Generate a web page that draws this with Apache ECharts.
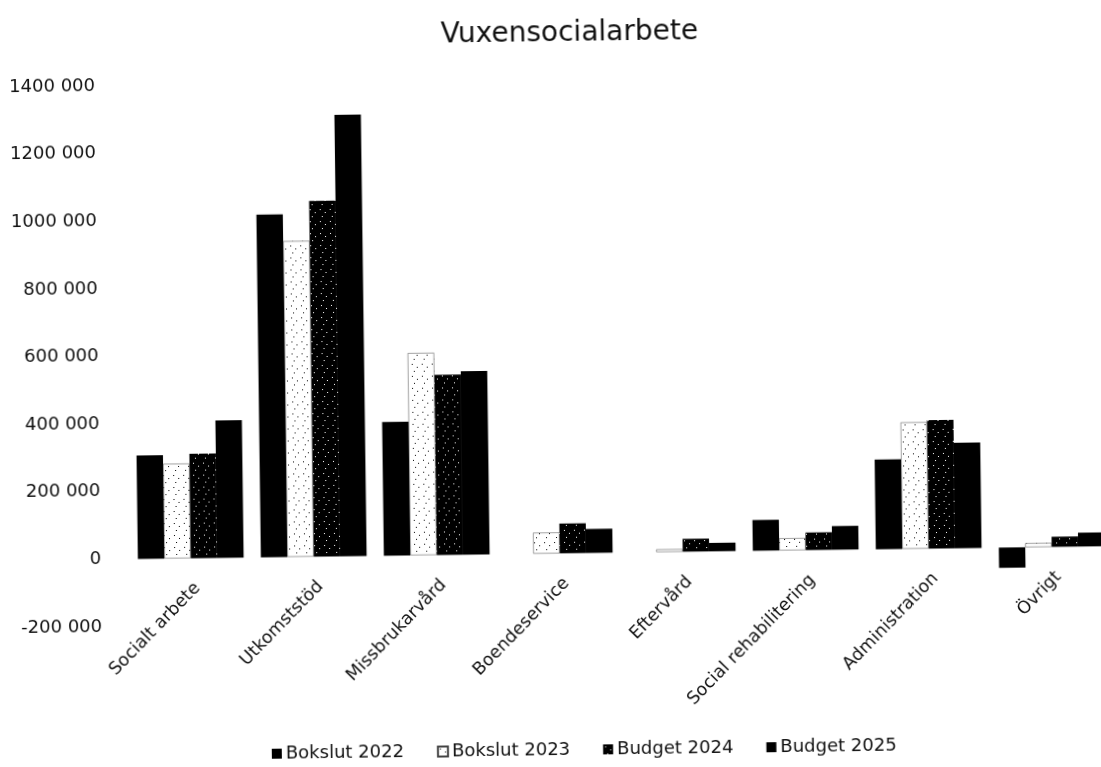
<!DOCTYPE html>
<html>
<head>
<meta charset="utf-8">
<script src="https://cdn.jsdelivr.net/npm/echarts@6/dist/echarts.min.js"></script>
<style>
  html, body { margin: 0; padding: 0; background: #fff; overflow: hidden; }
  /* the source is a slightly crooked scan: tilt the whole chart a little.
     a bit wider than the window, the last bar is cut by the right edge */
  #chart {
    width: 1114px;
    height: 767px;
    transform: rotate(-0.75deg);
    transform-origin: 557px 383px;
  }
</style>
</head>
<body>
<div id="chart"></div>
<script>
const categories = ['Socialt arbete', 'Utkomststöd', 'Missbrukarvård', 'Boendeservice', 'Eftervård', 'Social rehabilitering', 'Administration', 'Övrigt']
const seriesNames = ['Bokslut 2022', 'Bokslut 2023', 'Budget 2024', 'Budget 2025']
const bokslut2022 = [306000, 1013000, 395000, 0, 0, 91000, 265000, -60000]
const bokslut2023 = [280000, 934000, 598000, 62000, 8000, 36000, 374000, 12000]
const budget2024 = [309000, 1052000, 533000, 88000, 38000, 52000, 380000, 30000]
const budget2025 = [406000, 1305000, 542000, 71000, 25000, 70000, 312000, 41000]
const yTicks = [-200000, 0, 200000, 400000, 600000, 800000, 1000000, 1200000, 1400000]

const font = '"DejaVu Sans", sans-serif'
const gridTop = 80
const gridBottom = 146

// dotted fills (fixed dot grid, just a texture)
function dots(bg, fg) {
  const c = document.createElement('canvas')
  c.width = 10
  c.height = 12
  const ctx = c.getContext('2d')
  ctx.fillStyle = bg
  ctx.fillRect(0, 0, 10, 12)
  ctx.fillStyle = fg
  ctx.fillRect(2, 2, 1, 1)
  ctx.fillRect(7, 5, 1, 1)
  ctx.fillRect(4, 9, 1, 1)
  return { image: c, repeat: 'repeat' }
}

function fmt(v) {
  if (v === 0) return '0'
  return Math.round(v / 1000) + ' 000'
}

// category labels sit next to the zero line, not at the bottom of the grid
const yMin = yTicks[0]
const yMax = yTicks[yTicks.length - 1]
const plotH = 767 - gridTop - gridBottom
const zeroOffset = -plotH * (0 - yMin) / (yMax - yMin)

const fills = ['#000', dots('#fff', '#000'), dots('#000', '#fff'), '#000']
const data = [bokslut2022, bokslut2023, budget2024, budget2025]

const chart = echarts.init(document.getElementById('chart'))
chart.setOption({
  animation: false,
  backgroundColor: '#fff',
  title: {
    text: 'Vuxensocialarbete',
    left: 569,
    textAlign: 'center',
    top: 15,
    textStyle: { fontFamily: font, fontSize: 28, fontWeight: 'normal', color: '#111' },
  },
  legend: {
    top: 736,
    left: 262,
    itemWidth: 10,
    itemHeight: 10,
    itemGap: 33,
    icon: 'rect',
    textStyle: { fontFamily: font, fontSize: 18, color: '#111', padding: [0, 0, 0, -1] },
    data: seriesNames,
  },
  grid: {
    left: 127,
    right: 3,
    top: gridTop,
    bottom: gridBottom,
    containLabel: false,
    outerBoundsMode: 'none',
  },
  xAxis: {
    type: 'category',
    data: categories,
    offset: zeroOffset,
    axisLine: { show: false, onZero: false },
    axisTick: { show: false },
    axisLabel: {
      interval: 0,
      rotate: 45,
      margin: 21,
      verticalAlign: 'top',
      fontFamily: font,
      fontSize: 17.5,
      color: '#111',
    },
  },
  yAxis: {
    type: 'value',
    min: yMin,
    max: yMax,
    interval: 200000,
    splitLine: { show: false },
    axisLine: { show: false },
    axisTick: { show: false },
    axisLabel: {
      margin: 28,
      fontFamily: font,
      fontSize: 18,
      color: '#111',
      formatter: fmt,
    },
  },
  series: seriesNames.map((name, i) => ({
    name,
    type: 'bar',
    data: data[i],
    barGap: '0%',
    barCategoryGap: '14%',
    itemStyle: {
      color: fills[i],
      borderColor: i === 1 ? '#444' : '#000',
      borderWidth: i === 1 ? 0.5 : 0,
    },
  })),
})
</script>
</body>
</html>
